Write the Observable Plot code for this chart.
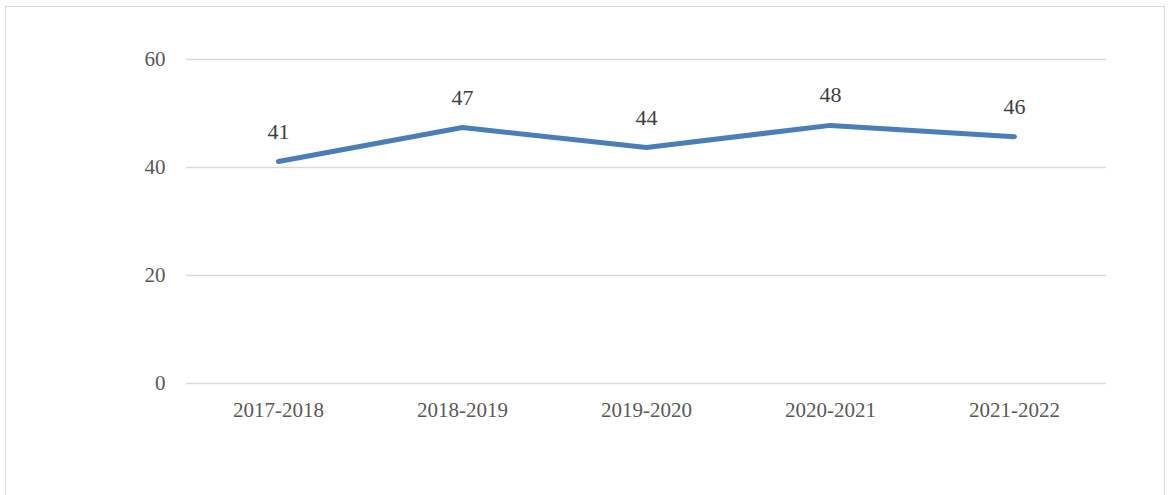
<!DOCTYPE html>
<html>
<head>
<meta charset="utf-8">
<script src="https://cdn.jsdelivr.net/npm/d3@7"></script>
<script src="https://cdn.jsdelivr.net/npm/@observablehq/plot@0.6"></script>
<style>
  html, body { margin: 0; padding: 0; background: #fff; }
  #wrap { position: relative; width: 1172px; height: 495px; overflow: hidden; }
  #frame { position: absolute; left: 5px; top: 6px; width: 1160px; height: 520px; border: 1.5px solid #d9d9d9; box-sizing: border-box; }
  #chart { position: absolute; left: 0; top: 0; }
</style>
</head>
<body>
<div id="wrap"><div id="frame"></div><div id="chart"></div></div>
<script>
const years = ["2017-2018", "2018-2019", "2019-2020", "2020-2021", "2021-2022"];
const values = [41.1, 47.4, 43.7, 47.8, 45.7];
const yTicks = [0, 20, 40, 60];

const data = years.map((y, i) => ({year: y, value: values[i]}));
const font = "'Liberation Serif', 'DejaVu Serif', serif";

const chart = Plot.plot({
  width: 1172,
  height: 495,
  marginLeft: 186,
  marginRight: 66,
  marginTop: 59,
  marginBottom: 112,
  style: {fontFamily: font, fontSize: "21px", color: "#595959", background: "transparent"},
  x: {type: "point", domain: years, padding: 0.5, label: null},
  y: {domain: [0, 60], label: null},
  marks: [
    Plot.gridY(yTicks, {stroke: "#d9d9d9", strokeOpacity: 1, strokeWidth: 1.5}),
    Plot.axisY(yTicks, {tickSize: 0, tickPadding: 21, fill: "#595959", fontSize: 21, label: null}),
    Plot.axisX({tickSize: 0, tickPadding: 19, fill: "#595959", fontSize: 21, label: null}),
    Plot.line(data, {x: "year", y: "value", stroke: "#4a7ebb", strokeWidth: 5, strokeLinecap: "round", strokeLinejoin: "round"}),
    Plot.text(data, {x: "year", y: "value", text: d => String(Math.round(d.value)), dy: -30, fill: "#404040", fontSize: 22})
  ]
});
document.getElementById("chart").appendChild(chart);
</script>
</body>
</html>
